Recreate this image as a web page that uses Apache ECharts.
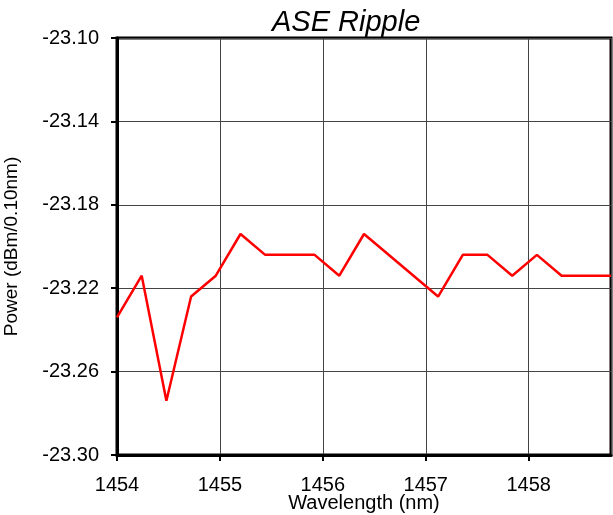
<!DOCTYPE html>
<html>
<head>
<meta charset="utf-8">
<script src="https://cdn.jsdelivr.net/npm/echarts@6/dist/echarts.min.js"></script>
<style>
  html, body { margin: 0; padding: 0; background: #fff; }
  #chart { width: 613px; height: 515px; }
</style>
</head>
<body>
<div id="chart"></div>
<script>
// wavelength (nm) and power (dBm/0.10nm)
const wavelength = [1454.00, 1454.24, 1454.48, 1454.72, 1454.96, 1455.20, 1455.44, 1455.68, 1455.92,
                    1456.16, 1456.40, 1457.12, 1457.36, 1457.60, 1457.84, 1458.08, 1458.32, 1458.56, 1458.80];
const power = [-23.234, -23.214, -23.274, -23.224, -23.214, -23.194, -23.204, -23.204, -23.204,
               -23.214, -23.194, -23.224, -23.204, -23.204, -23.214, -23.204, -23.214, -23.214, -23.214];
const yTicks = [-23.30, -23.26, -23.22, -23.18, -23.14, -23.10];
const xTicks = [1454, 1455, 1456, 1457, 1458];

const font = 'Liberation Sans, Arial, sans-serif';
const points = wavelength.map((w, i) => [w, power[i]]);

let myChart = echarts.init(document.getElementById('chart'));
myChart.setOption({
    animation: false,
    title: {
        text: 'ASE Ripple',
        left: 267, top: 3,
        textStyle: {fontFamily: font, fontSize: 29, fontStyle: 'italic', fontWeight: 'normal', color: '#000'}
    },
    grid: {
        left: 117, right: 2, top: 38, bottom: 60,
        containLabel: false, outerBoundsMode: 'none',
        show: true, borderColor: '#000', borderWidth: 3
    },
    xAxis: {
        type: 'value',
        min: 1454, max: 1458.8, interval: 1,
        name: 'Wavelength (nm)', nameLocation: 'middle', nameGap: 38, nameMoveOverlap: false,
        nameTextStyle: {fontFamily: font, fontSize: 20, color: '#000'},
        axisLine: {lineStyle: {color: '#000', width: 3}},
        axisTick: {show: true, length: 6, lineStyle: {color: '#000', width: 2}},
        axisLabel: {
            fontFamily: font, fontSize: 20, color: '#000', margin: 20,
            showMaxLabel: false,
            formatter: v => xTicks.includes(v) ? String(v) : ''
        },
        splitLine: {show: true, lineStyle: {color: '#444', width: 1}}
    },
    yAxis: {
        type: 'value',
        min: yTicks[0], max: yTicks[yTicks.length - 1], interval: 0.04,
        name: 'Power (dBm/0.10nm)', nameLocation: 'middle', nameGap: 96, nameRotate: 90, nameMoveOverlap: false,
        nameTextStyle: {fontFamily: font, fontSize: 19, color: '#000'},
        axisLine: {lineStyle: {color: '#000', width: 3}},
        axisTick: {show: true, length: 6, lineStyle: {color: '#000', width: 2}},
        axisLabel: {
            fontFamily: font, fontSize: 20, color: '#000', margin: 18,
            formatter: v => v.toFixed(2)
        },
        splitLine: {show: true, lineStyle: {color: '#444', width: 1}}
    },
    series: [{
        type: 'line',
        data: points,
        symbol: 'none',
        lineStyle: {color: '#ff0000', width: 2.5},
        clip: true
    }]
});
</script>
</body>
</html>
